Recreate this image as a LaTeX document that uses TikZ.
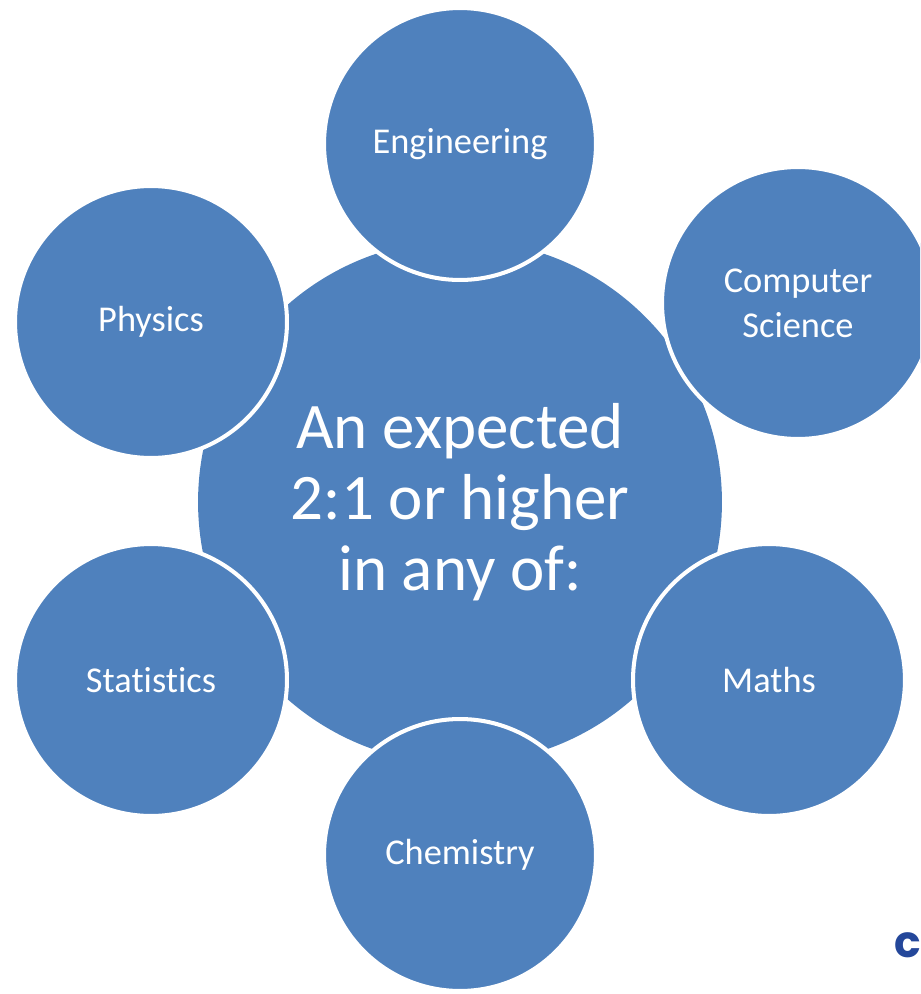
\documentclass[tikz,border=0pt]{standalone}
\usepackage{fontspec}
\setmainfont[Ligatures=NoCommon]{Carlito}
\newfontfamily\logofont{Poppins}
\usepackage{tikz}
\usepackage{xcolor}
\definecolor{subjblue}{HTML}{4F81BD}
\definecolor{logoblue}{HTML}{24479A}

\tikzset{
    hub/.style={circle, fill=subjblue, inner sep=0pt, minimum size=10.48cm, text=white, align=center,
                font=\fontsize{37}{40.4}\selectfont},
    subj/.style={circle, fill=subjblue, draw=white, line width=2.3pt, inner sep=0pt, minimum size=5.44cm,
                 text=white, align=center, font=\fontsize{20.7}{25.6}\selectfont}
}

\begin{document}
\begin{tikzpicture}[x=0.02cm,y=-0.02cm]

    \useasboundingbox (0,0) rectangle (920,994);
    \clip (0,0) rectangle (920,994);

    \node[hub] (core) at (460,502) {An expected\\2:1 or higher\\in any of:};

    \node[subj] (eng)  at (460,144) {Engineering};
    \node[subj] (comp) at (798,303) {Computer\\Science};
    \node[subj] (math) at (769,680) {Maths};
    \node[subj] (chem) at (460,855) {Chemistry};
    \node[subj] (stat) at (151,680) {Statistics};
    \node[subj] (phys) at (151,322) {Physics};

    \node[anchor=base west, inner sep=0pt, text=logoblue, font=\logofont\bfseries\fontsize{25}{27}\selectfont] (logo) at (894,957) {c};

\end{tikzpicture}
\end{document}
